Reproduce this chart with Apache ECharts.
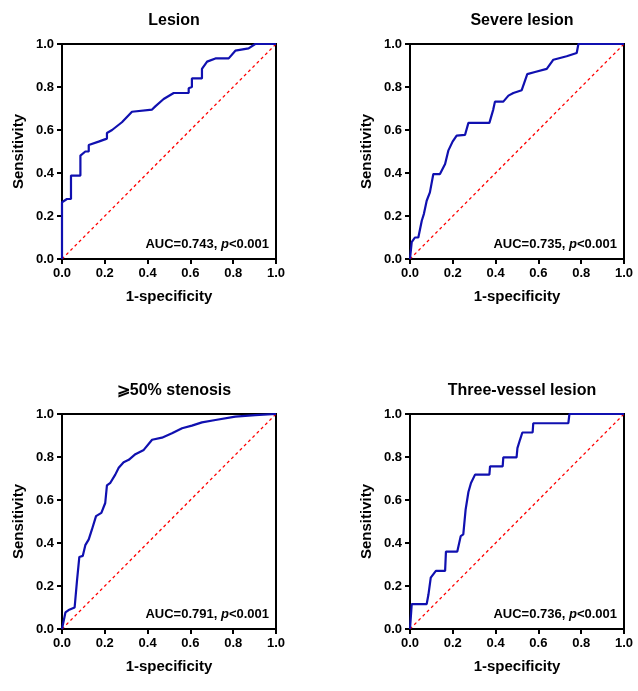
<!DOCTYPE html>
<html>
<head>
<meta charset="utf-8">
<script src="https://cdn.jsdelivr.net/npm/echarts@6/dist/echarts.min.js"></script>
<style>html,body{margin:0;padding:0;background:#fff}#chart{width:638px;height:691px}</style>
</head>
<body>
<div id="chart"></div>
<script>
var panelTitles = ['Lesion', 'Severe lesion', '\u2a7e50% stenosis', 'Three-vessel lesion'];
var aucText = ['0.743', '0.735', '0.791', '0.736'];
var ticks = [0, 0.2, 0.4, 0.6, 0.8, 1.0];

// ROC points [1-specificity, sensitivity]
var rocLesion = [[0,0],[0,0.264],[0.023,0.279],[0.042,0.279],[0.042,0.388],[0.086,0.388],[0.086,0.481],[0.109,0.50],[0.125,0.50],[0.125,0.53],[0.171,0.546],[0.21,0.56],[0.21,0.586],[0.234,0.60],[0.28,0.636],[0.327,0.685],[0.421,0.695],[0.436,0.71],[0.475,0.744],[0.522,0.772],[0.592,0.772],[0.592,0.794],[0.607,0.80],[0.607,0.84],[0.654,0.84],[0.654,0.884],[0.678,0.918],[0.717,0.933],[0.779,0.933],[0.81,0.969],[0.872,0.98],[0.903,1],[1,1]];
var rocSevere = [[0,0],[0.008,0.078],[0.023,0.10],[0.039,0.10],[0.055,0.178],[0.065,0.21],[0.078,0.271],[0.093,0.31],[0.109,0.395],[0.14,0.395],[0.164,0.442],[0.179,0.504],[0.199,0.546],[0.218,0.574],[0.257,0.577],[0.273,0.633],[0.371,0.633],[0.389,0.695],[0.397,0.732],[0.436,0.732],[0.46,0.76],[0.483,0.772],[0.522,0.785],[0.548,0.86],[0.584,0.87],[0.639,0.884],[0.67,0.927],[0.732,0.943],[0.779,0.958],[0.787,1],[1,1]];
var rocStenosis = [[0,0],[0.016,0.077],[0.031,0.088],[0.059,0.10],[0.07,0.224],[0.081,0.335],[0.097,0.34],[0.109,0.39],[0.125,0.417],[0.14,0.463],[0.159,0.525],[0.184,0.54],[0.202,0.586],[0.21,0.668],[0.226,0.68],[0.249,0.718],[0.265,0.75],[0.288,0.776],[0.312,0.787],[0.343,0.813],[0.382,0.833],[0.421,0.88],[0.467,0.89],[0.514,0.91],[0.561,0.934],[0.607,0.946],[0.654,0.961],[0.717,0.972],[0.81,0.988],[0.903,0.995],[1,1]];
var rocThree = [[0,0],[0.008,0.116],[0.078,0.116],[0.086,0.159],[0.097,0.239],[0.121,0.27],[0.164,0.27],[0.168,0.36],[0.221,0.36],[0.237,0.432],[0.249,0.44],[0.26,0.556],[0.273,0.637],[0.285,0.679],[0.304,0.718],[0.371,0.718],[0.374,0.756],[0.433,0.756],[0.436,0.798],[0.498,0.798],[0.502,0.841],[0.514,0.88],[0.525,0.914],[0.573,0.914],[0.576,0.957],[0.74,0.957],[0.745,1],[1,1]];
var rocData = [rocLesion, rocSevere, rocStenosis, rocThree];

var lefts = [62, 410, 62, 410];
var tops = [44, 44, 414, 414];
var W = 214, H = 215;
var font = 'Liberation Sans, Arial, sans-serif';

var grids = [], xAxes = [], yAxes = [], series = [], titles = [];
for (var i = 0; i < 4; i++) {
    grids.push({ left: lefts[i], top: tops[i], width: W, height: H, show: true, borderColor: '#000', borderWidth: 2, backgroundColor: 'transparent' });
    var axisCommon = {
        type: 'value', min: 0, max: 1, interval: 0.2, gridIndex: i,
        axisLine: { show: true, lineStyle: { color: '#000', width: 2 } },
        axisTick: { show: true, length: 5, lineStyle: { color: '#000', width: 2 } },
        splitLine: { show: false },
        axisLabel: { color: '#000', fontWeight: 'bold', fontSize: 13, fontFamily: font, formatter: function (v) { return v.toFixed(1); } },
        nameTextStyle: { color: '#000', fontWeight: 'bold', fontSize: 15, fontFamily: font }
    };
    xAxes.push(Object.assign({}, axisCommon, { name: '1-specificity', nameLocation: 'middle', nameGap: 30 }));
    yAxes.push(Object.assign({}, axisCommon, { name: 'Sensitivity', nameLocation: 'middle', nameGap: 36 }));
    series.push({
        type: 'line', xAxisIndex: i, yAxisIndex: i, data: [[0, 0], [1, 1]], symbol: 'none', silent: true,
        lineStyle: { color: '#ff0000', width: 1.3, type: [3, 3] }
    });
    series.push({
        type: 'line', xAxisIndex: i, yAxisIndex: i, data: rocData[i], symbol: 'none', silent: true,
        lineStyle: { color: '#1010b0', width: 2.2 }
    });
    titles.push({
        text: panelTitles[i], left: lefts[i] + W / 2, top: tops[i] - 36, textAlign: 'center',
        textStyle: { fontSize: 16, fontWeight: 'bold', color: '#000', fontFamily: font }
    });
    titles.push({
        text: '{a|AUC=' + aucText[i] + ', }{b|p}{a|<0.001}',
        left: lefts[i] + W - 12, top: tops[i] + H - 26, textAlign: 'right',
        textStyle: {
            rich: {
                a: { fontSize: 13, fontWeight: 'bold', color: '#000', fontFamily: font },
                b: { fontSize: 13, fontWeight: 'bold', fontStyle: 'italic', color: '#000', fontFamily: font }
            }
        }
    });
}

var myChart = echarts.init(document.getElementById('chart'));
myChart.setOption({
    backgroundColor: '#fff',
    animation: false,
    title: titles,
    grid: grids,
    xAxis: xAxes,
    yAxis: yAxes,
    series: series
});
</script>
</body>
</html>
